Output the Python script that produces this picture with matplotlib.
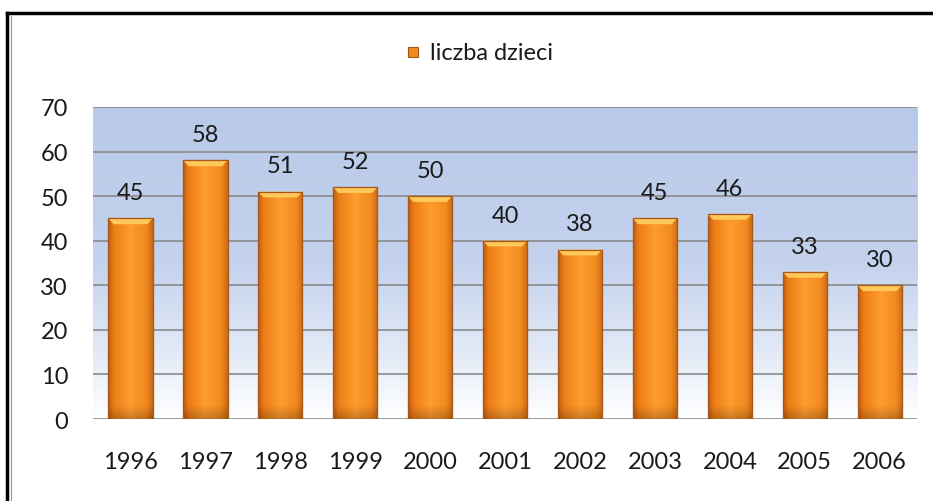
import numpy as np
import matplotlib.pyplot as plt
from matplotlib.colors import LinearSegmentedColormap
from matplotlib.patches import Polygon, Rectangle
from matplotlib.lines import Line2D

plt.rcParams['font.family'] = ['Lato', 'DejaVu Sans']

# data
years = ['1996', '1997', '1998', '1999', '2000', '2001', '2002', '2003', '2004', '2005', '2006']
children = [45, 58, 51, 52, 50, 40, 38, 45, 46, 33, 30]
series_name = 'liczba dzieci'

fig = plt.figure(figsize=(9.33, 5.02), dpi=100)
fig.patch.set_facecolor('white')
ax = fig.add_axes([0.0997, 0.1633, 0.8833, 0.6217])

x = np.arange(len(years))
ax.set_xlim(-0.5, len(years) - 0.5)
ax.set_ylim(0, 70)

# background gradient: blue at top, fading to white at bottom
bg_cmap = LinearSegmentedColormap.from_list('bg', [(0.0, '#ffffff'), (0.2, '#e4ebf7'),
                                                   (0.5, '#c4d2ed'), (1.0, '#b8c9e9')])
grad = np.linspace(0, 1, 256).reshape(-1, 1)
ax.imshow(grad, cmap=bg_cmap, aspect='auto', extent=[0, 1, 0, 1], origin='lower',
          transform=ax.transAxes, zorder=0)

# grid lines
for v in range(0, 80, 10):
    ax.axhline(v, color='#8a8a8a', lw=1.2, zorder=1)

bars = ax.bar(x, children, width=0.59, color='#f68f1f', edgecolor='#b86418', lw=0.8, zorder=3)

# bar shading
bar_cmap = LinearSegmentedColormap.from_list('bar', [(0.0, '#c25c10'), (0.12, '#ec7d17'),
                                                     (0.5, '#ff9d2e'), (0.85, '#f28a20'),
                                                     (1.0, '#c96b15')])
hx = np.linspace(0, 1, 64)
for p in bars.patches:
    x0, w, h = p.get_x(), p.get_width(), p.get_height()
    n = 128
    img = bar_cmap(hx)[None, :, :].repeat(n, axis=0)
    # darken towards the bottom
    vy = np.linspace(0, h, n)
    shade = np.clip(0.8 + vy / 3.0 * 0.2, 0.8, 1.0)
    img[:, :, :3] *= shade[:, None, None]
    im = ax.imshow(img, aspect='auto', extent=[x0, x0 + w, 0, h], origin='lower',
                   zorder=3.5)
    im.set_clip_path(p)
    # top bevel
    d = 1.3
    b = w * 0.12
    top = Polygon([[x0, h], [x0 + w, h], [x0 + w - b, h - d], [x0 + b, h - d]],
                  closed=True, facecolor='#ffc95a', edgecolor='none', zorder=4)
    ax.add_patch(top)
    ax.add_patch(Rectangle((x0, 0), w, h, fill=False, edgecolor='#a8581a', lw=0.9, zorder=4.5))
    ax.text(x0 + w / 2, h + 3.4, str(int(round(h))),
            ha='center', va='bottom', fontsize=17, color='#1a1a1a', zorder=5)

ax.set_xticks(x)
ax.set_xticklabels(years, fontsize=17, color='#1a1a1a')
ax.set_yticks(range(0, 80, 10))
ax.set_yticklabels([str(v) for v in range(0, 80, 10)], fontsize=17, color='#1a1a1a')
ax.tick_params(axis='x', length=0, pad=23)
ax.tick_params(axis='y', length=0, pad=18)
for s in ax.spines.values():
    s.set_visible(False)

# legend on top
fig.patches.append(Rectangle((408 / 933, 1 - 58 / 502), 10 / 933, 10 / 502, transform=fig.transFigure,
                             facecolor='#f08a1c', edgecolor='#a0561a', lw=0.8))
fig.text(430 / 933, 1 - 53 / 502, series_name, fontsize=17, va='center', ha='left', color='#1a1a1a')

# frame
fig.lines.append(Line2D([7 / 933, 1.0], [1 - 13.5 / 502] * 2, transform=fig.transFigure,
                        color='black', lw=2.5))
fig.lines.append(Line2D([7 / 933] * 2, [0, 1 - 13.5 / 502], transform=fig.transFigure,
                        color='black', lw=2.5))
fig.lines.append(Line2D([11 / 933] * 2, [0, 1 - 17 / 502], transform=fig.transFigure,
                        color='#9a9a9a', lw=0.8))

fig.savefig('out.png', dpi=100, facecolor='white')
